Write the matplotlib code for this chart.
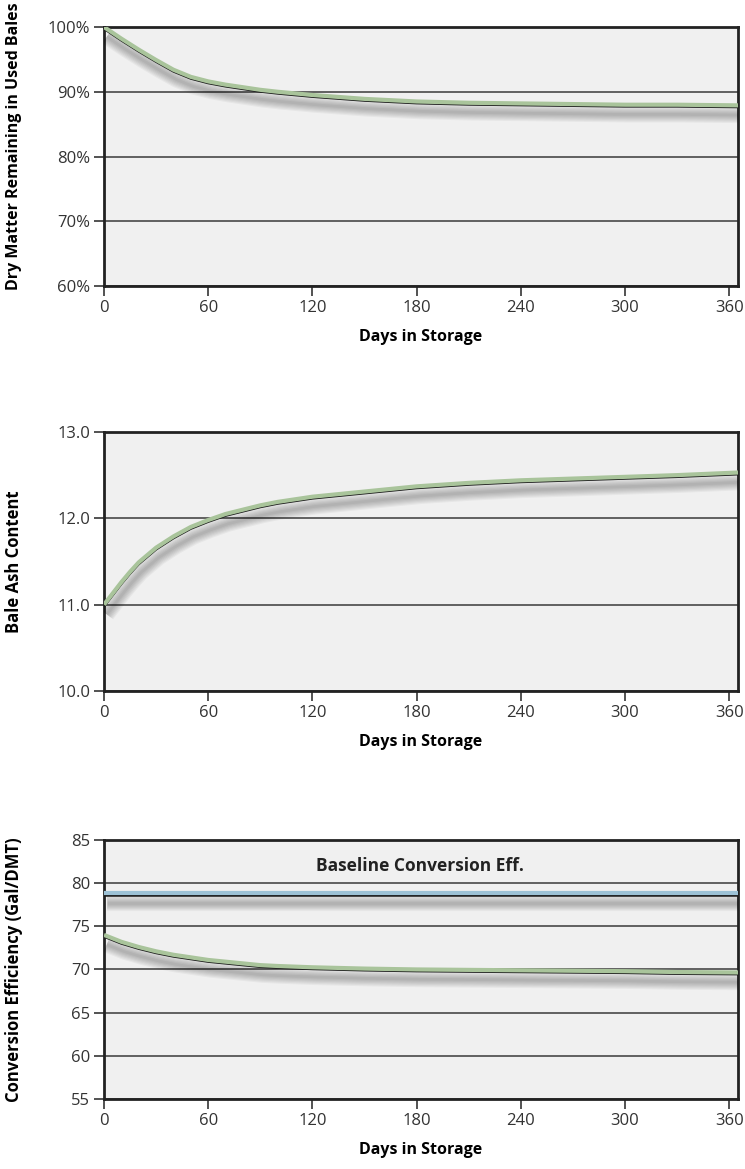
import matplotlib.pyplot as plt
import matplotlib.patheffects as pe
from matplotlib.ticker import FuncFormatter

plt.rcParams['font.family'] = ['Open Sans', 'DejaVu Sans']

# Jours de stockage communs aux trois courbes
jours = [0, 5, 10, 15, 20, 30, 40, 50, 60, 70, 80, 90, 100, 120, 150, 180,
         210, 240, 270, 300, 330, 365]

# Matière sèche restante (%)
matiere_seche = [100.0, 99.1, 98.2, 97.35, 96.5, 94.9, 93.4, 92.3, 91.6, 91.1,
                 90.7, 90.3, 90.0, 89.5, 88.9, 88.5, 88.3, 88.2, 88.1, 88.0,
                 88.0, 87.9]

# Teneur en cendres
cendres = [11.0, 11.13, 11.26, 11.38, 11.49, 11.66, 11.79, 11.9, 11.98, 12.05,
           12.1, 12.15, 12.19, 12.25, 12.31, 12.37, 12.41, 12.44, 12.46, 12.48,
           12.5, 12.53]

# Efficacité de conversion (Gal/DMT)
conversion = [74.0, 73.6, 73.2, 72.9, 72.6, 72.1, 71.7, 71.4, 71.1, 70.9,
              70.7, 70.5, 70.4, 70.25, 70.1, 70.0, 69.95, 69.9, 69.85, 69.8,
              69.7, 69.65]
conversion_reference = 78.8

jours_ticks = [0, 60, 120, 180, 240, 300, 360]

VERT = '#a9c49b'
BLEU = '#9dc2d6'


def effets_ligne():
    # ombre floue sous la courbe, trait noir décalé, puis la couleur
    ombres = [pe.SimpleLineShadow(offset=(2, -7), shadow_color='black',
                                  alpha=0.04, linewidth=2 + 1.6 * i)
              for i in range(7)]
    return ombres + [pe.Stroke(offset=(0, -1.2), linewidth=1.8, foreground='#1a1a1a'),
                     pe.Normal()]


def preparer_axe(ax, yticks, ylabel, fmt=None, label_y=0.5, label_taille=12):
    ax.set_facecolor('#f0f0f0')
    ax.set_xlim(0, 365)
    ax.set_ylim(yticks[0], yticks[-1])
    ax.set_xticks(jours_ticks)
    ax.set_yticks(yticks)
    if fmt:
        ax.yaxis.set_major_formatter(FuncFormatter(fmt))
    ax.grid(axis='y', color='#555555', linewidth=1.3)
    ax.set_axisbelow(True)
    for s in ax.spines.values():
        s.set_linewidth(2)
        s.set_color('#222222')
    ax.tick_params(direction='out', length=7, width=1.3, color='#444444',
                   labelsize=12, labelcolor='#333333', pad=3)
    ax.set_xlabel('Days in Storage', fontsize=11.5, fontweight='bold')
    ax.set_ylabel(ylabel, fontsize=label_taille, fontweight='bold')
    ax.xaxis.set_label_coords(0.5, -0.197)
    ax.xaxis.label.set_va('center')
    ax.yaxis.set_label_coords(-0.142, label_y)
    ax.yaxis.label.set_va('center')


def tracer(ax, x, y, couleur):
    ax.plot(x, y, color=couleur, linewidth=3, path_effects=effets_ligne(),
            solid_capstyle='butt', solid_joinstyle='round', zorder=3)


fig = plt.figure(figsize=(7.45, 11.69), dpi=100)
gauche, largeur, hauteur = 0.1396, 0.851, 0.2216

ax1 = fig.add_axes([gauche, 0.7553, largeur, hauteur])
preparer_axe(ax1, [60, 70, 80, 90, 100], 'Dry Matter Remaining in Used Bales',
             lambda v, p: f'{v:.0f}%', label_y=0.54, label_taille=11.5)
tracer(ax1, jours, matiere_seche, VERT)

ax2 = fig.add_axes([gauche, 0.4089, largeur, hauteur])
preparer_axe(ax2, [10.0, 11.0, 12.0, 13.0], 'Bale Ash Content',
             lambda v, p: f'{v:.1f}')
tracer(ax2, jours, cendres, VERT)

ax3 = fig.add_axes([gauche, 0.0599, largeur, hauteur])
preparer_axe(ax3, [55, 60, 65, 70, 75, 80, 85], 'Conversion Efficiency (Gal/DMT)')
tracer(ax3, [0, 365], [conversion_reference, conversion_reference], BLEU)
tracer(ax3, jours, conversion, VERT)
ax3.text(182, 82.0, 'Baseline Conversion Eff.', ha='center', va='center',
         fontsize=12.5, fontweight='bold', color='#222222')

fig.savefig('out.png', dpi=100)
